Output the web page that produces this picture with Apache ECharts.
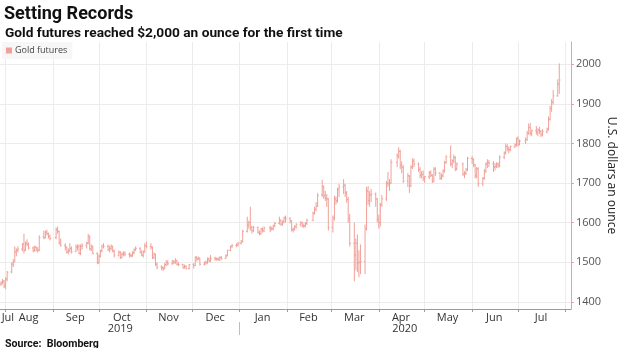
<!DOCTYPE html>
<html>
<head>
<meta charset="utf-8">
<script src="https://cdn.jsdelivr.net/npm/echarts@6/dist/echarts.min.js"></script>
<style>
  html, body { margin: 0; padding: 0; background: #fff; }
  #chart { width: 620px; height: 348px; }
</style>
</head>
<body>
<div id="chart"></div>
<script>
// Price axis ticks (U.S. dollars an ounce)
const priceTicks = [1400, 1500, 1600, 1700, 1800, 1900, 2000];

// Month labels and where they sit on the time axis
const monthNames = ['Jul', 'Aug', 'Sep', 'Oct', 'Nov', 'Dec', 'Jan', 'Feb', 'Mar', 'Apr', 'May', 'Jun', 'Jul'];
const monthLabelDates = [
  '2019-08-02T12:00:00Z', '2019-08-16T00:00:00Z', '2019-09-15T12:00:00Z', '2019-10-16T00:00:00Z',
  '2019-11-15T12:00:00Z', '2019-12-16T00:00:00Z', '2020-01-16T00:00:00Z', '2020-02-15T00:00:00Z',
  '2020-03-16T00:00:00Z', '2020-04-15T12:00:00Z', '2020-05-16T00:00:00Z', '2020-06-15T12:00:00Z',
  '2020-07-16T00:00:00Z'
];
// Month boundaries (ticks and vertical grid lines)
const monthStarts = [
  '2019-08-01', '2019-09-01', '2019-10-01', '2019-11-01', '2019-12-01', '2020-01-01',
  '2020-02-01', '2020-03-01', '2020-04-01', '2020-05-01', '2020-06-01', '2020-07-01', '2020-08-01'
];
// Year row under the months
const yearNames = ['2019', '2020'];
const yearLabelDates = ['2019-10-15T00:00:00Z', '2020-04-18T00:00:00Z'];
const yearBreaks = ['2020-01-01'];

// Time window shown
const viewStart = '2019-07-28T08:00:00Z';
const viewEnd = '2020-08-04T16:00:00Z';

// Gold futures daily bars: [date, open, high, low, close]
const goldFutures = [
  ['2019-07-29',1445,1452,1440,1448],['2019-07-30',1448,1458,1444,1452],['2019-07-31',1452,1455,1435,1440],
  ['2019-08-01',1440,1462,1432,1458],['2019-08-02',1458,1478,1452,1475],['2019-08-05',1476,1500,1472,1495],
  ['2019-08-06',1495,1508,1488,1500],['2019-08-07',1502,1540,1500,1525],['2019-08-08',1526,1535,1515,1530],
  ['2019-08-09',1530,1540,1525,1533],['2019-08-12',1533,1548,1528,1545],['2019-08-13',1546,1572,1522,1530],
  ['2019-08-14',1530,1552,1528,1548],['2019-08-15',1548,1558,1540,1545],['2019-08-16',1545,1550,1532,1536],
  ['2019-08-19',1536,1540,1525,1530],['2019-08-20',1530,1542,1526,1538],['2019-08-21',1538,1540,1528,1532],
  ['2019-08-22',1532,1538,1524,1530],['2019-08-23',1530,1568,1528,1562],['2019-08-26',1565,1580,1558,1562],
  ['2019-08-27',1562,1580,1560,1576],['2019-08-28',1576,1582,1568,1572],['2019-08-29',1572,1575,1560,1565],
  ['2019-08-30',1565,1570,1555,1560],['2019-09-03',1562,1588,1558,1582],['2019-09-04',1582,1590,1572,1578],
  ['2019-09-05',1578,1580,1545,1548],['2019-09-06',1548,1560,1540,1542],['2019-09-09',1542,1548,1530,1538],
  ['2019-09-10',1538,1540,1522,1526],['2019-09-11',1526,1535,1520,1530],['2019-09-12',1530,1548,1525,1535],
  ['2019-09-13',1535,1540,1522,1526],['2019-09-16',1528,1545,1525,1538],['2019-09-17',1538,1545,1530,1540],
  ['2019-09-18',1540,1545,1520,1522],['2019-09-19',1522,1545,1518,1540],['2019-09-20',1540,1548,1532,1542],
  ['2019-09-23',1542,1552,1535,1548],['2019-09-24',1548,1572,1545,1565],['2019-09-25',1565,1568,1530,1534],
  ['2019-09-26',1534,1545,1528,1540],['2019-09-27',1540,1542,1520,1522],['2019-09-30',1522,1525,1495,1500],
  ['2019-10-01',1500,1520,1496,1515],['2019-10-02',1515,1532,1512,1528],['2019-10-03',1528,1545,1525,1540],
  ['2019-10-04',1540,1548,1535,1540],['2019-10-07',1540,1545,1528,1532],['2019-10-08',1532,1542,1525,1535],
  ['2019-10-09',1535,1545,1530,1540],['2019-10-10',1540,1542,1525,1528],['2019-10-11',1528,1532,1512,1518],
  ['2019-10-14',1518,1530,1515,1525],['2019-10-15',1525,1528,1508,1512],['2019-10-16',1512,1525,1510,1520],
  ['2019-10-17',1520,1528,1515,1522],['2019-10-18',1522,1528,1515,1520],['2019-10-21',1520,1525,1512,1518],
  ['2019-10-22',1518,1522,1512,1516],['2019-10-23',1516,1528,1514,1524],['2019-10-24',1524,1535,1520,1532],
  ['2019-10-25',1532,1540,1528,1535],['2019-10-28',1535,1538,1522,1525],['2019-10-29',1525,1530,1515,1518],
  ['2019-10-30',1518,1530,1512,1526],['2019-10-31',1526,1548,1524,1542],['2019-11-01',1542,1552,1535,1540],
  ['2019-11-04',1540,1548,1532,1538],['2019-11-05',1538,1540,1508,1512],['2019-11-06',1512,1525,1508,1520],
  ['2019-11-07',1520,1522,1490,1495],['2019-11-08',1495,1500,1482,1488],['2019-11-11',1488,1492,1480,1486],
  ['2019-11-12',1486,1490,1478,1484],['2019-11-13',1484,1498,1482,1494],['2019-11-14',1494,1505,1490,1500],
  ['2019-11-15',1500,1505,1492,1496],['2019-11-18',1496,1506,1494,1502],['2019-11-19',1502,1505,1495,1500],
  ['2019-11-20',1500,1510,1496,1504],['2019-11-21',1504,1506,1492,1495],['2019-11-22',1495,1500,1490,1494],
  ['2019-11-25',1494,1496,1484,1486],['2019-11-26',1486,1494,1484,1490],['2019-11-27',1490,1492,1482,1484],
  ['2019-11-29',1484,1496,1482,1494],['2019-12-02',1494,1498,1484,1492],['2019-12-03',1492,1515,1490,1512],
  ['2019-12-04',1512,1516,1502,1508],['2019-12-05',1508,1514,1505,1510],['2019-12-06',1510,1512,1492,1495],
  ['2019-12-09',1495,1502,1492,1498],['2019-12-10',1498,1504,1494,1500],['2019-12-11',1500,1512,1496,1508],
  ['2019-12-12',1508,1512,1500,1504],['2019-12-13',1504,1518,1500,1510],['2019-12-16',1510,1514,1504,1508],
  ['2019-12-17',1508,1512,1504,1508],['2019-12-18',1508,1512,1504,1506],['2019-12-19',1506,1515,1504,1512],
  ['2019-12-20',1512,1516,1506,1510],['2019-12-23',1510,1520,1508,1516],['2019-12-24',1516,1532,1515,1530],
  ['2019-12-26',1530,1542,1528,1540],['2019-12-27',1540,1546,1536,1542],['2019-12-30',1542,1548,1538,1544],
  ['2019-12-31',1544,1552,1540,1548],['2020-01-02',1548,1556,1545,1552],['2020-01-03',1552,1582,1550,1578],
  ['2020-01-06',1578,1615,1575,1594],['2020-01-07',1594,1605,1585,1600],['2020-01-08',1600,1640,1580,1588],
  ['2020-01-09',1588,1592,1572,1580],['2020-01-10',1580,1592,1576,1588],['2020-01-13',1588,1590,1572,1576],
  ['2020-01-14',1576,1580,1568,1572],['2020-01-15',1572,1586,1570,1584],['2020-01-16',1584,1588,1575,1580],
  ['2020-01-17',1580,1590,1576,1587],['2020-01-21',1587,1592,1576,1584],['2020-01-22',1584,1590,1580,1585],
  ['2020-01-23',1585,1595,1580,1592],['2020-01-24',1592,1602,1588,1598],['2020-01-27',1598,1615,1595,1606],
  ['2020-01-28',1606,1608,1592,1596],['2020-01-29',1596,1606,1592,1602],['2020-01-30',1602,1615,1598,1612],
  ['2020-01-31',1612,1618,1600,1610],['2020-02-03',1610,1614,1598,1604],['2020-02-04',1604,1606,1578,1582],
  ['2020-02-05',1582,1588,1575,1584],['2020-02-06',1584,1594,1580,1590],['2020-02-07',1590,1598,1585,1596],
  ['2020-02-10',1596,1604,1590,1600],['2020-02-11',1600,1602,1588,1592],['2020-02-12',1592,1598,1586,1592],
  ['2020-02-13',1592,1602,1588,1598],['2020-02-14',1598,1610,1594,1606],['2020-02-18',1606,1628,1604,1624],
  ['2020-02-19',1624,1640,1620,1634],['2020-02-20',1634,1652,1628,1642],['2020-02-21',1642,1675,1640,1668],
  ['2020-02-24',1670,1708,1665,1690],['2020-02-25',1690,1694,1660,1668],['2020-02-26',1668,1680,1655,1662],
  ['2020-02-27',1662,1672,1640,1660],['2020-02-28',1660,1662,1580,1588],['2020-03-02',1588,1618,1575,1612],
  ['2020-03-03',1612,1668,1605,1660],['2020-03-04',1660,1666,1645,1655],['2020-03-05',1655,1688,1650,1684],
  ['2020-03-06',1684,1698,1665,1690],['2020-03-09',1690,1710,1672,1694],['2020-03-10',1694,1698,1665,1675],
  ['2020-03-11',1675,1680,1650,1658],['2020-03-12',1658,1665,1600,1610],['2020-03-13',1610,1622,1540,1548],
  ['2020-03-16',1548,1600,1452,1518],['2020-03-17',1518,1560,1480,1548],['2020-03-18',1548,1570,1475,1498],
  ['2020-03-19',1498,1530,1462,1500],['2020-03-20',1500,1545,1470,1502],['2020-03-23',1502,1595,1470,1585],
  ['2020-03-24',1585,1690,1580,1680],['2020-03-25',1680,1692,1645,1656],['2020-03-26',1656,1680,1640,1670],
  ['2020-03-27',1670,1685,1652,1672],['2020-03-30',1672,1676,1640,1660],['2020-03-31',1660,1662,1600,1608],
  ['2020-04-01',1608,1620,1585,1600],['2020-04-02',1600,1650,1590,1645],['2020-04-03',1645,1670,1640,1660],
  ['2020-04-06',1660,1705,1655,1700],['2020-04-07',1700,1728,1690,1698],['2020-04-08',1698,1710,1680,1700],
  ['2020-04-09',1700,1760,1698,1752],['2020-04-13',1752,1775,1740,1768],['2020-04-14',1768,1790,1762,1780],
  ['2020-04-15',1780,1784,1735,1745],['2020-04-16',1745,1755,1725,1740],['2020-04-17',1740,1745,1700,1705],
  ['2020-04-20',1705,1725,1690,1718],['2020-04-21',1718,1720,1675,1692],['2020-04-22',1692,1745,1690,1740],
  ['2020-04-23',1740,1762,1735,1755],['2020-04-24',1755,1762,1740,1748],['2020-04-27',1748,1752,1728,1734],
  ['2020-04-28',1734,1740,1712,1720],['2020-04-29',1720,1730,1712,1722],['2020-04-30',1722,1732,1705,1712],
  ['2020-05-01',1712,1718,1700,1716],['2020-05-04',1716,1730,1710,1726],['2020-05-05',1726,1732,1715,1720],
  ['2020-05-06',1720,1722,1700,1704],['2020-05-07',1704,1740,1702,1735],['2020-05-08',1735,1740,1718,1725],
  ['2020-05-11',1725,1728,1708,1712],['2020-05-12',1712,1724,1708,1718],['2020-05-13',1718,1735,1714,1730],
  ['2020-05-14',1730,1756,1726,1752],['2020-05-15',1752,1770,1748,1766],['2020-05-18',1766,1795,1742,1748],
  ['2020-05-19',1748,1760,1738,1756],['2020-05-20',1756,1772,1750,1764],['2020-05-21',1764,1768,1730,1736],
  ['2020-05-22',1736,1752,1732,1748],['2020-05-26',1748,1752,1718,1722],['2020-05-27',1722,1730,1712,1725],
  ['2020-05-28',1725,1738,1720,1734],['2020-05-29',1734,1766,1730,1762],['2020-06-01',1762,1768,1748,1760],
  ['2020-06-02',1760,1762,1740,1746],['2020-06-03',1746,1748,1712,1718],['2020-06-04',1718,1740,1712,1736],
  ['2020-06-05',1736,1740,1690,1698],['2020-06-08',1698,1715,1692,1712],['2020-06-09',1712,1735,1708,1730],
  ['2020-06-10',1730,1752,1725,1748],['2020-06-11',1748,1760,1738,1752],['2020-06-12',1752,1758,1740,1750],
  ['2020-06-15',1750,1755,1728,1740],['2020-06-16',1740,1750,1732,1742],['2020-06-17',1742,1752,1738,1748],
  ['2020-06-18',1748,1752,1738,1744],['2020-06-19',1744,1770,1740,1765],['2020-06-22',1765,1780,1760,1776],
  ['2020-06-23',1776,1800,1772,1792],['2020-06-24',1792,1798,1780,1786],['2020-06-25',1786,1792,1775,1784],
  ['2020-06-26',1784,1795,1780,1792],['2020-06-29',1792,1800,1788,1796],['2020-06-30',1796,1815,1792,1812],
  ['2020-07-01',1812,1818,1792,1798],['2020-07-02',1798,1810,1795,1806],['2020-07-06',1806,1815,1798,1810],
  ['2020-07-07',1810,1832,1806,1826],['2020-07-08',1826,1850,1822,1840],['2020-07-09',1840,1852,1820,1826],
  ['2020-07-10',1826,1835,1818,1832],['2020-07-13',1832,1844,1822,1828],['2020-07-14',1828,1838,1818,1834],
  ['2020-07-15',1834,1842,1824,1830],['2020-07-16',1830,1834,1816,1822],['2020-07-17',1822,1836,1818,1830],
  ['2020-07-20',1830,1840,1825,1836],['2020-07-21',1836,1868,1832,1860],['2020-07-22',1860,1895,1858,1888],
  ['2020-07-23',1888,1912,1880,1904],['2020-07-24',1904,1935,1898,1920],['2020-07-27',1920,1962,1918,1950],
  ['2020-07-28',1950,2002,1925,1960]
];

const barColor = '#f0a098';
const fontFamily = 'Roboto, "Open Sans", sans-serif';
const tickFont = '"Open Sans", Roboto, sans-serif';

const toTime = (s) => Date.parse(s.length === 10 ? s + 'T00:00:00Z' : s);
const monthLabelMap = new Map(monthLabelDates.map((d, i) => [toTime(d), monthNames[i]]));
const yearLabelMap = new Map(yearLabelDates.map((d, i) => [toTime(d), yearNames[i]]));

const seriesData = goldFutures.map(([d, o, h, l, c]) => [toTime(d), o, h, l, c]);

const chart = echarts.init(document.getElementById('chart'), null, { renderer: 'canvas' });

chart.setOption({
  animation: false,
  backgroundColor: '#fff',
  textStyle: { fontFamily },
  title: [
    {
      text: 'Setting Records', left: -1, top: 0,
      textStyle: { fontFamily, fontSize: 18, fontWeight: 'bold', color: '#111' }
    },
    {
      text: 'Gold futures reached $2,000 an ounce for the first time', left: 0, top: 22,
      textStyle: { fontFamily, fontSize: 13.7, fontWeight: 'bold', color: '#111' }
    },
    {
      text: 'Source:  Bloomberg', left: 0, top: 334,
      textStyle: { fontFamily, fontSize: 10.6, fontWeight: 'bold', color: '#111' }
    }
  ],
  legend: {
    left: 2, top: 42,
    padding: [4, 5, 4, 4],
    backgroundColor: 'rgba(246,246,246,0.9)',
    icon: 'rect', itemWidth: 6, itemHeight: 6, itemGap: 4,
    textStyle: { fontFamily: tickFont, fontSize: 9, color: '#444', padding: [0, 0, 0, -2] },
    data: ['Gold futures']
  },
  grid: { left: 0, right: 49, top: 42, bottom: 39, containLabel: false, outerBoundsMode: 'none' },
  xAxis: [
    {
      type: 'value',
      min: toTime(viewStart), max: toTime(viewEnd),
      axisLine: { show: true, lineStyle: { color: '#9a9a9a', width: 1 } },
      axisTick: {
        show: true, length: 3, inside: false,
        customValues: monthStarts.map(toTime),
        lineStyle: { color: '#9a9a9a' }
      },
      axisLabel: {
        customValues: monthLabelDates.map(toTime),
        formatter: (v) => monthLabelMap.get(v) || '',
        margin: 3, fontSize: 11, color: '#333', fontFamily: tickFont
      },
      splitLine: { show: true, lineStyle: { color: '#ececec', width: 1 } }
    },
    {
      type: 'value',
      position: 'bottom', offset: 13,
      min: toTime(viewStart), max: toTime(viewEnd),
      axisLine: { show: false },
      axisTick: {
        show: true, length: 13, inside: false,
        customValues: yearBreaks.map(toTime),
        lineStyle: { color: '#bdbdbd' }
      },
      axisLabel: {
        customValues: yearLabelDates.map(toTime),
        formatter: (v) => yearLabelMap.get(v) || '',
        margin: 1, fontSize: 11, color: '#333', fontFamily: tickFont
      },
      splitLine: { show: false }
    }
  ],
  yAxis: {
    type: 'value',
    position: 'right',
    min: 1382, max: 2056,
    axisLine: { show: true, lineStyle: { color: '#e6a2aa', width: 1 } },
    axisTick: {
      show: true, length: 3, inside: false,
      customValues: priceTicks,
      lineStyle: { color: '#e6a2aa' }
    },
    axisLabel: {
      customValues: priceTicks,
      formatter: (v) => String(v),
      margin: 5, fontSize: 11, color: '#555', fontFamily: tickFont
    },
    splitLine: { show: true, lineStyle: { color: '#ececec', width: 1 } },
    name: 'U.S. dollars an ounce',
    nameLocation: 'middle', nameRotate: -90, nameGap: 34, nameMoveOverlap: false,
    nameTextStyle: { fontFamily: tickFont, fontSize: 12, color: '#222' }
  },
  series: [
    {
      name: 'Gold futures',
      type: 'custom',
      xAxisIndex: 0,
      itemStyle: { color: barColor },
      encode: { x: 0, y: [1, 2, 3, 4] },
      data: seriesData,
      renderItem: (params, api) => {
        const t = api.value(0);
        const o = api.coord([t, api.value(1)]);
        const h = api.coord([t, api.value(2)]);
        const l = api.coord([t, api.value(3)]);
        const c = api.coord([t, api.value(4)]);
        const style = { stroke: barColor, lineWidth: 1 };
        return {
          type: 'group',
          children: [
            { type: 'line', shape: { x1: h[0], y1: h[1], x2: l[0], y2: l[1] }, style },
            { type: 'line', shape: { x1: o[0] - 1.2, y1: o[1], x2: o[0], y2: o[1] }, style },
            { type: 'line', shape: { x1: c[0], y1: c[1], x2: c[0] + 1.2, y2: c[1] }, style }
          ]
        };
      }
    }
  ]
});
</script>
</body>
</html>
